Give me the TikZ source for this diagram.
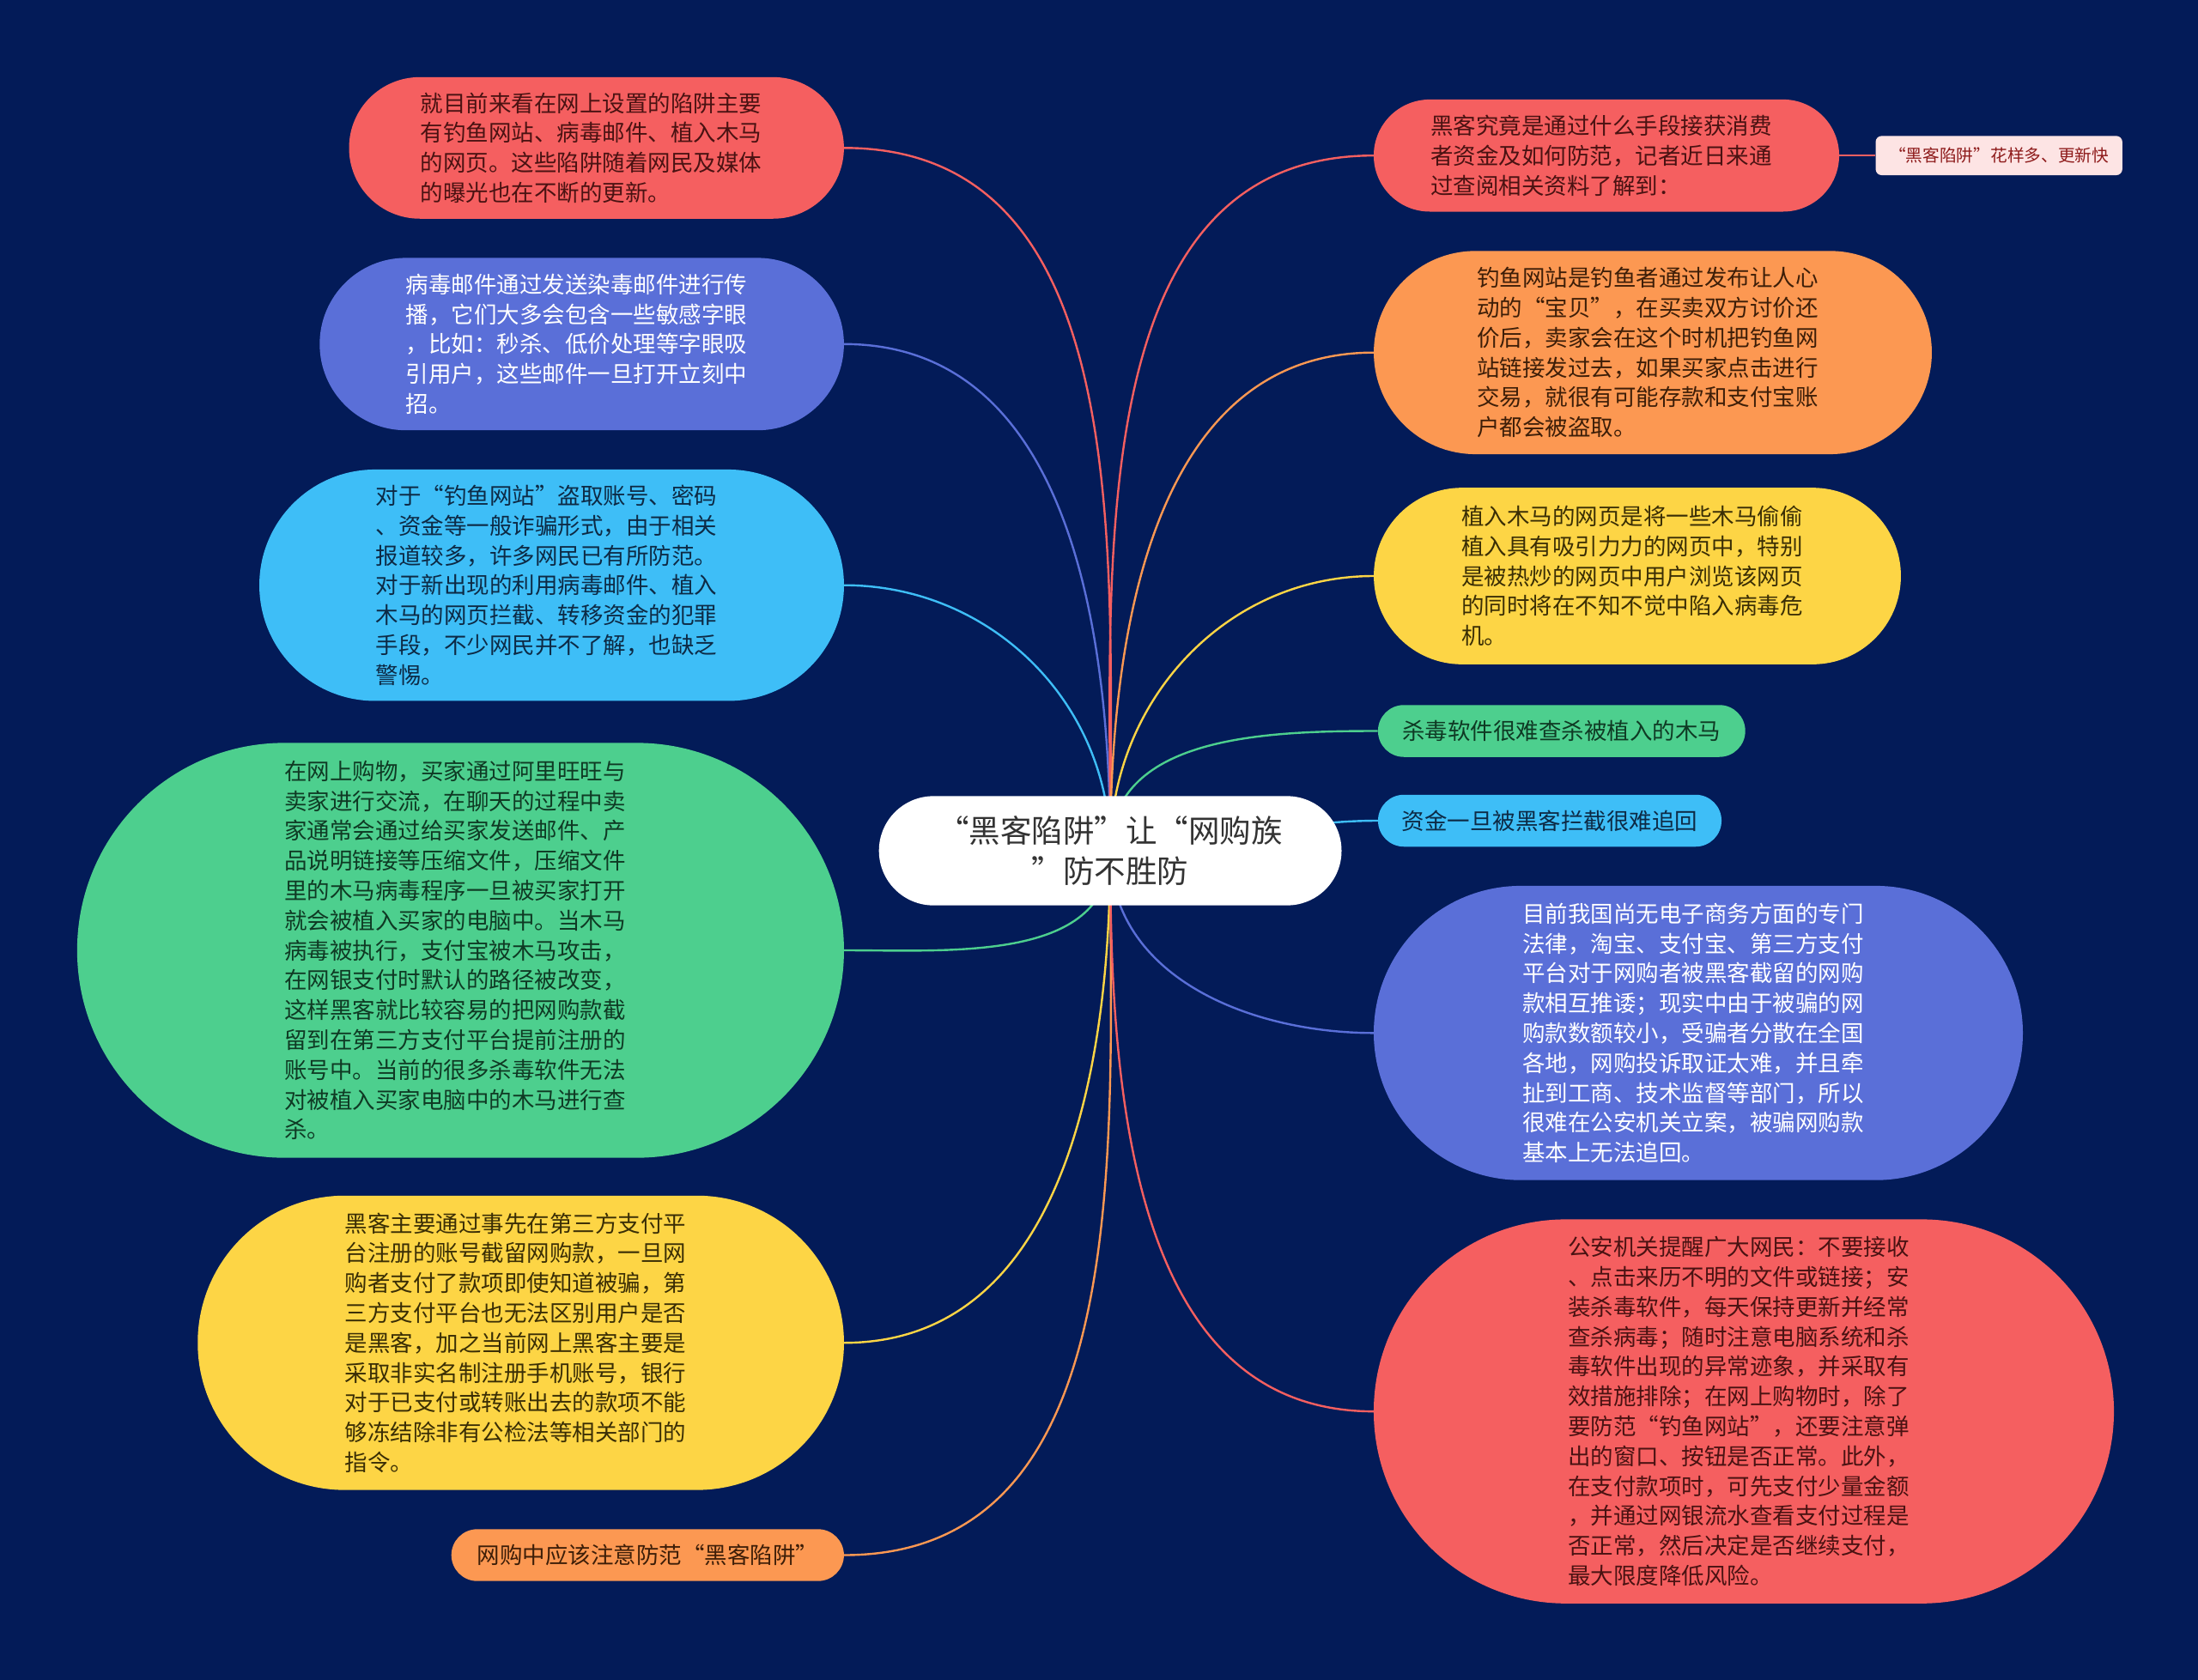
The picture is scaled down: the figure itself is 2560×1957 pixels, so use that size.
\documentclass[tikz,border=0pt]{standalone}
\usepackage{fontspec}
\setmainfont{Noto Sans CJK SC}
\usetikzlibrary{calc}
\definecolor{bgc}{HTML}{031B58}
\definecolor{cred}{HTML}{F55F60}
\definecolor{tred}{HTML}{4A1212}
\definecolor{cblue}{HTML}{5A6FD8}
\definecolor{tblue}{HTML}{FFFFFF}
\definecolor{clblue}{HTML}{3EBEF7}
\definecolor{tlblue}{HTML}{0D2A45}
\definecolor{cgreen}{HTML}{4DCF8E}
\definecolor{tgreen}{HTML}{0F3A24}
\definecolor{cyellow}{HTML}{FDD545}
\definecolor{tyellow}{HTML}{3A2E05}
\definecolor{corange}{HTML}{FC9852}
\definecolor{torange}{HTML}{3D1E08}
\definecolor{cpink}{HTML}{FDE4E4}
\definecolor{tpink}{HTML}{8E1B1B}
\definecolor{tcenter}{HTML}{333333}
\pgfdeclarelayer{bglayer}
\pgfdeclarelayer{edgelayer}
\pgfsetlayers{bglayer,edgelayer,main}
\tikzset{
  mm/.style={rectangle, inner xsep=0pt, inner ysep=0pt, align=left, text width=410pt,
    font=\fontsize{26.5pt}{34.8pt}\selectfont},
  mmone/.style={rectangle, inner xsep=0pt, inner ysep=0pt, align=center, text width=400pt,
    font=\fontsize{26.5pt}{34.8pt}\selectfont},
  link/.style={line width=2.4pt},
}
\begin{document}
\begin{tikzpicture}[x=1pt,y=1pt]
\begin{pgfonlayer}{bglayer}
\fill[bgc] (0,0) rectangle (2560,-1957);
\end{pgfonlayer}
\useasboundingbox (0,0) rectangle (2560,-1957);

% center
\node[rectangle, fill=white, text=tcenter, inner sep=0pt, align=center, text width=420pt,
  minimum width=538.8pt, minimum height=127.3pt, rounded corners=63.6pt,
  font=\fontsize{36.5pt}{47pt}\selectfont] (C) at (1293.1,-991) {“黑客陷阱”让“网购族\\”防不胜防};

% left nodes
\node[mm, fill=cred, text=tred, minimum width=576.4pt, minimum height=164.9pt, rounded corners=82.4pt] (L1) at (694.7,-172.3)
{就目前来看在网上设置的陷阱主要\\有钓鱼网站、病毒邮件、植入木马\\的网页。这些陷阱随着网民及媒体\\的曝光也在不断的更新。};

\node[mm, fill=cblue, text=tblue, minimum width=610.6pt, minimum height=200.8pt, rounded corners=100.4pt] (L2) at (677.6,-400.8)
{病毒邮件通过发送染毒邮件进行传\\播，它们大多会包含一些敏感字眼\\，比如：秒杀、低价处理等字眼吸\\引用户，这些邮件一旦打开立刻中\\招。};

\node[mm, fill=clblue, text=tlblue, minimum width=680.9pt, minimum height=269.5pt, rounded corners=134.7pt] (L3) at (642.5,-681.7)
{对于“钓鱼网站”盗取账号、密码\\、资金等一般诈骗形式，由于相关\\报道较多，许多网民已有所防范。\\对于新出现的利用病毒邮件、植入\\木马的网页拦截、转移资金的犯罪\\手段，不少网民并不了解，也缺乏\\警惕。};

\node[mm, fill=cgreen, text=tgreen, minimum width=893.1pt, minimum height=483.3pt, rounded corners=241.6pt] (L4) at (536.4,-1107)
{在网上购物，买家通过阿里旺旺与\\卖家进行交流，在聊天的过程中卖\\家通常会通过给买家发送邮件、产\\品说明链接等压缩文件，压缩文件\\里的木马病毒程序一旦被买家打开\\就会被植入买家的电脑中。当木马\\病毒被执行，支付宝被木马攻击，\\在网银支付时默认的路径被改变，\\这样黑客就比较容易的把网购款截\\留到在第三方支付平台提前注册的\\账号中。当前的很多杀毒软件无法\\对被植入买家电脑中的木马进行查\\杀。};

\node[mm, fill=cyellow, text=tyellow, minimum width=752.7pt, minimum height=342.9pt, rounded corners=171.4pt] (L5) at (606.6,-1564.2)
{黑客主要通过事先在第三方支付平\\台注册的账号截留网购款，一旦网\\购者支付了款项即使知道被骗，第\\三方支付平台也无法区别用户是否\\是黑客，加之当前网上黑客主要是\\采取非实名制注册手机账号，银行\\对于已支付或转账出去的款项不能\\够冻结除非有公检法等相关部门的\\指令。};

\node[mmone, fill=corange, text=torange, minimum width=457.2pt, minimum height=60.4pt, rounded corners=30.2pt] (L6) at (754.3,-1811.5)
{网购中应该注意防范“黑客陷阱”};

% right nodes
\node[mm, fill=cred, text=tred, minimum width=542.1pt, minimum height=130.6pt, rounded corners=65.3pt] (R1) at (1871,-181.2)
{黑客究竟是通过什么手段接获消费\\者资金及如何防范，记者近日来通\\过查阅相关资料了解到：};

\node[rectangle, fill=cpink, text=tpink, inner sep=0pt, minimum width=287.3pt, minimum height=45.7pt, rounded corners=7pt,
  font=\fontsize{19.7pt}{24pt}\selectfont] (R1b) at (2328.2,-181.2) {“黑客陷阱”花样多、更新快};

\node[mm, fill=corange, text=torange, minimum width=649.9pt, minimum height=236.7pt, rounded corners=118.3pt] (R2) at (1925,-410.7)
{钓鱼网站是钓鱼者通过发布让人心\\动的“宝贝”，在买卖双方讨价还\\价后，卖家会在这个时机把钓鱼网\\站链接发过去，如果买家点击进行\\交易，就很有可能存款和支付宝账\\户都会被盗取。};

\node[mm, fill=cyellow, text=tyellow, minimum width=613.9pt, minimum height=205.7pt, rounded corners=102.8pt] (R3) at (1907,-671)
{植入木马的网页是将一些木马偷偷\\植入具有吸引力力的网页中，特别\\是被热炒的网页中用户浏览该网页\\的同时将在不知不觉中陷入病毒危\\机。};

\node[mmone, fill=cgreen, text=tgreen, minimum width=427.8pt, minimum height=60.5pt, rounded corners=30.2pt, text width=380pt] (R4) at (1818.8,-851.5)
{杀毒软件很难查杀被植入的木马};

\node[mmone, fill=clblue, text=tlblue, minimum width=400.1pt, minimum height=60.5pt, rounded corners=30.2pt, text width=350pt] (R5) at (1805,-956)
{资金一旦被黑客拦截很难追回};

\node[mm, fill=cblue, text=tblue, minimum width=756pt, minimum height=342.8pt, rounded corners=171.4pt] (R6) at (1978,-1203.3)
{目前我国尚无电子商务方面的专门\\法律，淘宝、支付宝、第三方支付\\平台对于网购者被黑客截留的网购\\款相互推诿；现实中由于被骗的网\\购款数额较小，受骗者分散在全国\\各地，网购投诉取证太难，并且牵\\扯到工商、技术监督等部门，所以\\很难在公安机关立案，被骗网购款\\基本上无法追回。};

\node[mm, fill=cred, text=tred, minimum width=862.1pt, minimum height=447.4pt, rounded corners=223.7pt] (R7) at (2031,-1644.1)
{公安机关提醒广大网民：不要接收\\、点击来历不明的文件或链接；安\\装杀毒软件，每天保持更新并经常\\查杀病毒；随时注意电脑系统和杀\\毒软件出现的异常迹象，并采取有\\效措施排除；在网上购物时，除了\\要防范“钓鱼网站”，还要注意弹\\出的窗口、按钮是否正常。此外，\\在支付款项时，可先支付少量金额\\，并通过网银流水查看支付过程是\\否正常，然后决定是否继续支付，\\最大限度降低风险。};

% connectors
\begin{pgfonlayer}{edgelayer}
\draw[link, draw=cred]    (C.center) to[out=90,in=0] (L1.east);
\draw[link, draw=cblue]   (C.center) to[out=90,in=0] (L2.east);
\draw[link, draw=clblue]  (C.center) to[out=90,in=0] (L3.east);
\draw[link, draw=cgreen]  (C.center) to[out=-90,in=0] (L4.east);
\draw[link, draw=cyellow] (C.center) to[out=-90,in=0] (L5.east);
\draw[link, draw=corange] (C.center) to[out=-90,in=0] (L6.east);
\draw[link, draw=cred]    (C.center) to[out=90,in=180] (R1.west);
\draw[link, draw=corange] (C.center) to[out=90,in=180] (R2.west);
\draw[link, draw=cyellow] (C.center) to[out=90,in=180] (R3.west);
\draw[link, draw=cgreen]  (C.center) to[out=90,in=180] (R4.west);
\draw[link, draw=clblue]  (C.center) to[out=0,in=180] (R5.west);
\draw[link, draw=cblue]   (C.center) to[out=-90,in=180] (R6.west);
\draw[link, draw=cred]    (C.center) to[out=-90,in=180] (R7.west);
\draw[link, draw=cred]    (R1.east) -- (R1b.west);
\end{pgfonlayer}
\end{tikzpicture}
\end{document}
